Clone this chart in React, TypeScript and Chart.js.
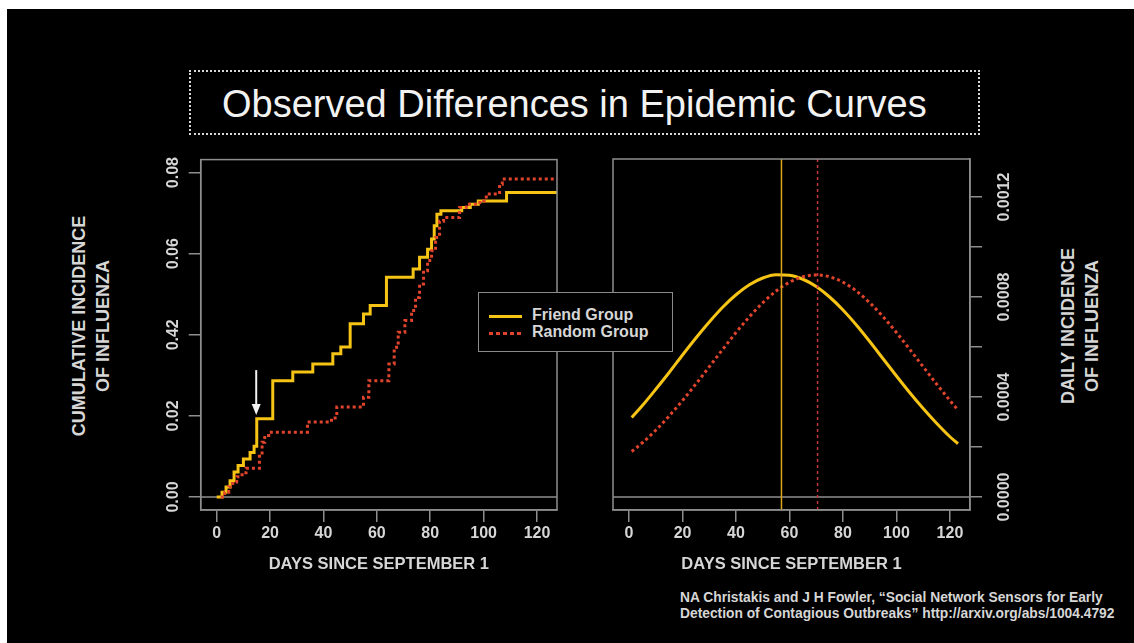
import React, { useEffect, useRef } from 'react';
import { Chart, registerables } from 'chart.js';

Chart.register(...registerables);

// ---------------- data ----------------
const X_TICKS = [0, 20, 40, 60, 80, 100, 120];
const X_TICK_LABELS = ['0', '20', '40', '60', '80', '100', '120'];
const LEFT_Y_TICKS = [0, 0.02, 0.04, 0.06, 0.08];
const LEFT_Y_LABELS = ['0.00', '0.02', '0.42', '0.06', '0.08'];
const RIGHT_Y_TICKS = [0, 0.0002, 0.0004, 0.0006, 0.0008, 0.001, 0.0012];
const RIGHT_Y_LABELS = ['0.0000', '', '0.0004', '', '0.0008', '', '0.0012'];

// cumulative incidence (step curves): day of step, level after step
const FRIEND_CUM_DAYS = [0, 2, 3.5, 5, 6.5, 8, 10, 12.5, 14, 15, 21, 28.5, 36, 43.5, 46.5, 50, 55, 57.5, 63.6, 73.6, 76, 79, 80.5, 81.5, 82.5, 84, 91.8, 95, 98, 108.6, 127.5];
const FRIEND_CUM = [0, 0.0012, 0.0025, 0.004, 0.0062, 0.0078, 0.0094, 0.011, 0.0125, 0.0193, 0.0287, 0.0308, 0.0328, 0.0353, 0.037, 0.0427, 0.0451, 0.0472, 0.0542, 0.0562, 0.0591, 0.0611, 0.0636, 0.0669, 0.0697, 0.0706, 0.0714, 0.0722, 0.073, 0.0751, 0.0751];
const RANDOM_CUM_DAYS = [1.5, 3, 4.5, 6, 7.5, 9.5, 11, 16, 17, 18, 19.5, 34, 43, 45, 55, 57, 64.5, 66.5, 68, 70.5, 73, 74.5, 76, 77.5, 79, 80.5, 82, 83.5, 85, 91, 93.5, 97, 100, 101, 106, 107, 127.5];
const RANDOM_CUM = [0, 0.0012, 0.0025, 0.0037, 0.005, 0.006, 0.0071, 0.0105, 0.0135, 0.0152, 0.016, 0.0185, 0.0195, 0.0222, 0.0246, 0.0287, 0.0328, 0.0369, 0.0406, 0.0435, 0.046, 0.0492, 0.0525, 0.0558, 0.0583, 0.0607, 0.064, 0.068, 0.0689, 0.0714, 0.0722, 0.0726, 0.073, 0.0747, 0.0771, 0.0784, 0.0784];

// daily incidence (smooth curves)
const DAILY_DAYS = [1, 5, 10, 15, 20, 25, 30, 35, 40, 45, 50, 55, 60, 65, 70, 75, 80, 85, 90, 95, 100, 105, 110, 115, 120, 123];
const FRIEND_DAILY = [0.000318, 0.000366, 0.000431, 0.000498, 0.000568, 0.000636, 0.0007, 0.000759, 0.000809, 0.000849, 0.000876, 0.000889, 0.000887, 0.000871, 0.000842, 0.0008, 0.000748, 0.000688, 0.000622, 0.000553, 0.000484, 0.000417, 0.000354, 0.000295, 0.000241, 0.000213];
const RANDOM_DAILY = [0.000182, 0.000217, 0.000267, 0.000324, 0.000386, 0.000452, 0.000521, 0.00059, 0.000658, 0.000721, 0.000777, 0.000824, 0.000859, 0.000881, 0.000888, 0.000881, 0.000859, 0.000824, 0.000777, 0.000721, 0.000658, 0.00059, 0.000521, 0.000452, 0.000386, 0.000348];

const FRIEND_PEAK_DAY = 57;
const RANDOM_PEAK_DAY = 70.5;

const ARROW_DAY = 14.8;
const ARROW_FROM = 0.0313;
const ARROW_TO = 0.0202;

const X_MIN = -6;
const X_MAX = 127.5;
const LEFT_Y_MIN = -0.0032;
const LEFT_Y_MAX = 0.0832;
const RIGHT_Y_MIN = -0.000052;
const RIGHT_Y_MAX = 0.001352;

// ---------------- style ----------------
const FONT = '"Liberation Sans", Arial, Helvetica, sans-serif';
const GRAY = '#8e8e8e';
const TEXT = '#d6d6d6';
const YELLOW = '#f6c414';
const RED = '#e0442c';
const YELLOW_V = '#dca51a';
const RED_V = '#c8363a';

const pts = (xs: number[], ys: number[]) => xs.map((x, i) => ({ x, y: ys[i] }));

function framePlugin(withArrow: boolean) {
  return {
    id: 'frame' + (withArrow ? 'A' : 'B'),
    beforeDatasetsDraw(chart: any) {
      const { ctx, chartArea: a, scales } = chart;
      const y0 = scales.y.getPixelForValue(0);
      ctx.save();
      ctx.strokeStyle = GRAY;
      ctx.lineWidth = 1.5;
      ctx.beginPath();
      ctx.moveTo(a.left, y0);
      ctx.lineTo(a.right, y0);
      ctx.stroke();
      ctx.restore();
    },
    afterDraw(chart: any) {
      const { ctx, chartArea: a, scales } = chart;
      ctx.save();
      ctx.strokeStyle = GRAY;
      ctx.lineWidth = 1.5;
      ctx.strokeRect(a.left, a.top, a.right - a.left, a.bottom - a.top);
      if (withArrow) {
        const x = scales.x.getPixelForValue(ARROW_DAY);
        const yTop = scales.y.getPixelForValue(ARROW_FROM);
        const yTip = scales.y.getPixelForValue(ARROW_TO);
        ctx.strokeStyle = '#f2f2f2';
        ctx.fillStyle = '#f2f2f2';
        ctx.lineWidth = 2;
        ctx.beginPath();
        ctx.moveTo(x, yTop);
        ctx.lineTo(x, yTip - 8);
        ctx.stroke();
        ctx.beginPath();
        ctx.moveTo(x - 4.5, yTip - 11);
        ctx.lineTo(x + 4.5, yTip - 11);
        ctx.lineTo(x, yTip);
        ctx.closePath();
        ctx.fill();
      }
      ctx.restore();
    },
  };
}

function xScale() {
  return {
    type: 'linear',
    position: 'bottom',
    min: X_MIN,
    max: X_MAX,
    afterBuildTicks: (s: any) => {
      s.ticks = X_TICKS.map((v) => ({ value: v }));
    },
    afterFit: (s: any) => {
      s.height = 70;
    },
    grid: { drawOnChartArea: false, drawTicks: true, tickLength: 12, color: GRAY, lineWidth: 1.5 },
    border: { display: true, color: GRAY, width: 1.5 },
    ticks: {
      color: TEXT,
      font: { family: FONT, size: 16, weight: 'bold' },
      padding: 2,
      minRotation: 0,
      maxRotation: 0,
      autoSkip: false,
      callback: (_v: any, i: number) => X_TICK_LABELS[i],
    },
    title: {
      display: true,
      text: 'DAYS SINCE SEPTEMBER 1',
      color: TEXT,
      font: { family: FONT, size: 16.5, weight: 'bold' },
      padding: { top: 0, bottom: 6 },
    },
  };
}

export default function App() {
  const leftRef = useRef<HTMLCanvasElement | null>(null);
  const rightRef = useRef<HTMLCanvasElement | null>(null);

  useEffect(() => {
    const left = new Chart(leftRef.current as HTMLCanvasElement, {
      type: 'line',
      data: {
        datasets: [
          {
            data: pts(RANDOM_CUM_DAYS, RANDOM_CUM),
            borderColor: RED,
            borderWidth: 3,
            borderDash: [3, 3],
            stepped: 'before',
            pointRadius: 0,
            fill: false,
          },
          {
            data: pts(FRIEND_CUM_DAYS, FRIEND_CUM),
            borderColor: YELLOW,
            borderWidth: 3,
            stepped: 'before',
            pointRadius: 0,
            fill: false,
          },
        ],
      },
      options: {
        responsive: false,
        animation: false,
        events: [],
        layout: { padding: { left: 0, top: 9, right: 23, bottom: 0 } },
        plugins: { legend: { display: false }, tooltip: { enabled: false } },
        scales: {
          x: xScale(),
          y: {
            type: 'linear',
            position: 'left',
            min: LEFT_Y_MIN,
            max: LEFT_Y_MAX,
            afterBuildTicks: (s: any) => {
              s.ticks = LEFT_Y_TICKS.map((v) => ({ value: v }));
            },
            afterFit: (s: any) => {
              s.width = 60.7;
            },
            grid: { drawOnChartArea: false, drawTicks: true, tickLength: 12, color: GRAY, lineWidth: 1.5 },
            border: { display: true, color: GRAY, width: 1.5 },
            ticks: {
              color: TEXT,
              font: { family: FONT, size: 16, weight: 'bold' },
              padding: 0,
              minRotation: 90,
              maxRotation: 90,
              crossAlign: 'center',
              autoSkip: false,
              callback: (_v: any, i: number) => LEFT_Y_LABELS[i],
            },
          },
        },
      } as any,
      plugins: [framePlugin(true)],
    });

    const right = new Chart(rightRef.current as HTMLCanvasElement, {
      type: 'line',
      data: {
        datasets: [
          {
            data: [
              { x: RANDOM_PEAK_DAY, y: RIGHT_Y_MIN },
              { x: RANDOM_PEAK_DAY, y: RIGHT_Y_MAX },
            ],
            borderColor: RED_V,
            borderWidth: 1.5,
            borderDash: [3, 3],
            pointRadius: 0,
            fill: false,
          },
          {
            data: [
              { x: FRIEND_PEAK_DAY, y: RIGHT_Y_MIN },
              { x: FRIEND_PEAK_DAY, y: RIGHT_Y_MAX },
            ],
            borderColor: YELLOW_V,
            borderWidth: 1.5,
            pointRadius: 0,
            fill: false,
          },
          {
            data: pts(DAILY_DAYS, RANDOM_DAILY),
            borderColor: RED,
            borderWidth: 3,
            borderDash: [3, 3],
            cubicInterpolationMode: 'monotone',
            pointRadius: 0,
            fill: false,
          },
          {
            data: pts(DAILY_DAYS, FRIEND_DAILY),
            borderColor: YELLOW,
            borderWidth: 3,
            cubicInterpolationMode: 'monotone',
            pointRadius: 0,
            fill: false,
          },
        ],
      },
      options: {
        responsive: false,
        animation: false,
        events: [],
        layout: { padding: { left: 23, top: 9, right: 0, bottom: 0 } },
        plugins: { legend: { display: false }, tooltip: { enabled: false } },
        scales: {
          x: xScale(),
          y: {
            type: 'linear',
            position: 'right',
            min: RIGHT_Y_MIN,
            max: RIGHT_Y_MAX,
            afterBuildTicks: (s: any) => {
              s.ticks = RIGHT_Y_TICKS.map((v) => ({ value: v }));
            },
            afterFit: (s: any) => {
              s.width = 60;
            },
            grid: { drawOnChartArea: false, drawTicks: true, tickLength: 12, color: GRAY, lineWidth: 1.5 },
            border: { display: true, color: GRAY, width: 1.5 },
            ticks: {
              color: TEXT,
              font: { family: FONT, size: 16, weight: 'bold' },
              padding: -2,
              minRotation: 90,
              maxRotation: 90,
              crossAlign: 'center',
              autoSkip: false,
              callback: (_v: any, i: number) => RIGHT_Y_LABELS[i],
            },
          },
        },
      } as any,
      plugins: [framePlugin(false)],
    });

    return () => {
      left.destroy();
      right.destroy();
    };
  }, []);

  const axisTitle = (cx: number, cy: number, lines: string[]) => (
    <div
      style={{
        position: 'absolute',
        left: cx - 150,
        top: cy - 24,
        width: 300,
        height: 48,
        lineHeight: '24px',
        textAlign: 'center',
        color: TEXT,
        fontFamily: FONT,
        fontSize: 18,
        fontWeight: 'bold',
        transform: 'rotate(-90deg)',
        transformOrigin: '50% 50%',
        whiteSpace: 'nowrap',
      }}
    >
      {lines.map((l) => (
        <div key={l}>{l}</div>
      ))}
    </div>
  );

  return (
    <div style={{ position: 'absolute', left: 0, top: 0, width: 1134, height: 643, background: '#fff', overflow: 'hidden' }}>
      <div style={{ position: 'absolute', left: 7, top: 9, right: 0, bottom: 0, background: '#000' }} />
      {/* title */}
      <div
        style={{
          position: 'absolute',
          left: 189,
          top: 70,
          width: 791,
          height: 65,
          boxSizing: 'border-box',
          border: '2px dotted #d8d8d8',
        }}
      />
      <div
        style={{
          position: 'absolute',
          left: 222,
          top: 85,
          lineHeight: '38px',
          fontSize: 38,
          fontFamily: FONT,
          color: '#f2f2f2',
          whiteSpace: 'nowrap',
        }}
      >
        Observed Differences in Epidemic Curves
      </div>

      <canvas ref={leftRef} width={440} height={430} style={{ position: 'absolute', left: 140, top: 150 }} />
      <canvas ref={rightRef} width={440} height={430} style={{ position: 'absolute', left: 590, top: 150 }} />

      {axisTitle(90.5, 326, ['CUMULATIVE INCIDENCE', 'OF INFLUENZA'])}
      {axisTitle(1080, 326, ['DAILY INCIDENCE', 'OF INFLUENZA'])}

      {/* legend */}
      <div
        style={{
          position: 'absolute',
          left: 478,
          top: 292,
          width: 195,
          height: 60,
          boxSizing: 'border-box',
          border: '1.5px solid #8a8a8a',
          background: '#000',
        }}
      >
        <div style={{ position: 'absolute', left: 10, top: 22, width: 33, height: 3, background: YELLOW }} />
        <div
          style={{
            position: 'absolute',
            left: 10,
            top: 39,
            width: 33,
            height: 3,
            background: `repeating-linear-gradient(90deg, ${RED} 0px, ${RED} 4px, transparent 4px, transparent 7px)`,
          }}
        />
        <div
          style={{
            position: 'absolute',
            left: 53,
            top: 13,
            lineHeight: '17px',
            fontSize: 16,
            fontWeight: 'bold',
            fontFamily: FONT,
            color: TEXT,
            whiteSpace: 'nowrap',
          }}
        >
          <div>Friend Group</div>
          <div>Random Group</div>
        </div>
      </div>

      {/* citation */}
      <div
        style={{
          position: 'absolute',
          left: 680,
          top: 590,
          lineHeight: '16px',
          fontSize: 13.8,
          fontWeight: 'bold',
          fontFamily: FONT,
          color: TEXT,
          whiteSpace: 'nowrap',
        }}
      >
        <div>NA Christakis and J H Fowler, “Social Network Sensors for Early</div>
        <div>Detection of Contagious Outbreaks” http://arxiv.org/abs/1004.4792</div>
      </div>
    </div>
  );
}
